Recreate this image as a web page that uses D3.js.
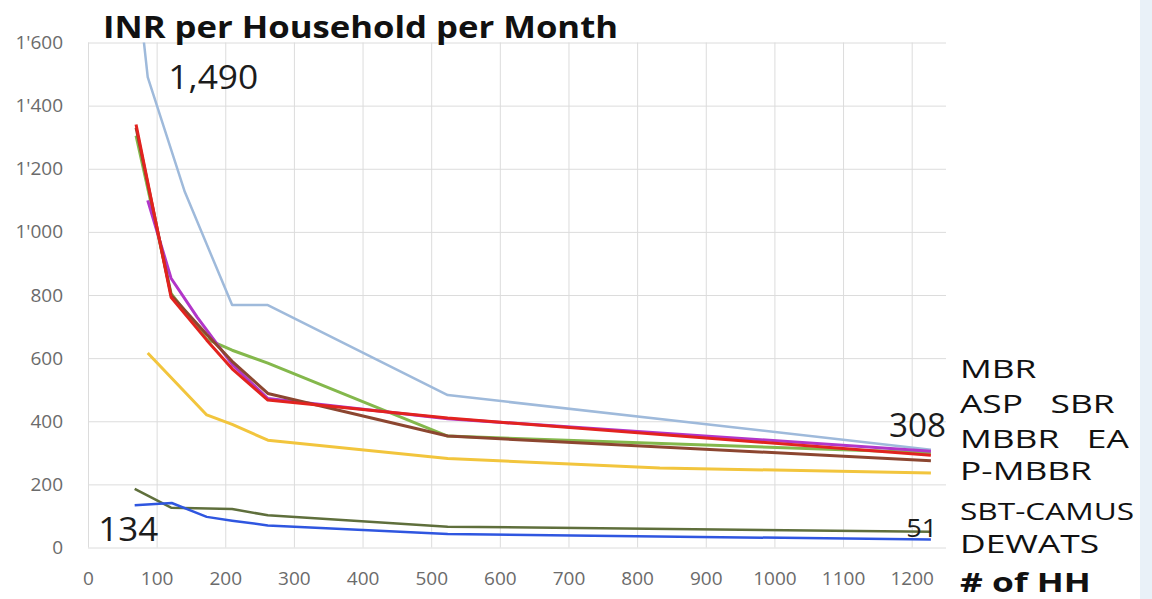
<!DOCTYPE html>
<html>
<head>
<meta charset="utf-8">
<script src="https://cdn.jsdelivr.net/npm/d3@7"></script>
<style>
	body { margin: 0; background: #fff; }
	svg { display: block; font-family: "Open Sans", sans-serif; }
</style>
</head>
<body>
<svg id="chart" width="1152" height="599"></svg>
<script>
// x = number of households, y = INR per household per month
const mbrX = [70, 87, 141, 210, 262, 524, 1228]
const mbrY = [1830, 1490, 1127, 768, 768, 483, 310]
const aspX = [70, 121, 173, 210, 262, 524, 1228]
const aspY = [1305, 805, 660, 625, 584, 353, 300]
const sbrX = [87, 121, 159, 210, 262, 524, 1228]
const sbrY = [1100, 853, 730, 580, 472, 408, 305]
const mbbrX = [70, 121, 173, 210, 262, 524, 1228]
const mbbrY = [1340, 793, 657, 566, 467, 410, 292]
const eaX = [70, 121, 173, 210, 262, 524, 1228]
const eaY = [1330, 800, 675, 590, 488, 353, 275]
const pmbbrX = [87, 173, 210, 262, 524, 833, 1228]
const pmbbrY = [616, 420, 390, 340, 282, 252, 236]
const camusX = [68, 121, 210, 262, 524, 1228]
const camusY = [186, 126, 122, 102, 66, 50]
const dewatsX = [68, 122, 173, 210, 262, 524, 1228]
const dewatsY = [134, 141, 97, 85, 70, 43, 25]

const xTicks = [0, 100, 200, 300, 400, 500, 600, 700, 800, 900, 1000, 1100, 1200]
const yTicks = [0, 200, 400, 600, 800, 1000, 1200, 1400, 1600]
const legendRows = ['MBR', 'ASP   SBR', 'MBBR   EA', 'P-MBBR', 'SBT-CAMUS', 'DEWATS']

// drawing order: back to front
const series = [
	{ name: 'MBR', xs: mbrX, ys: mbrY, color: '#9fbadb', w: 2.5 },
	{ name: 'P-MBBR', xs: pmbbrX, ys: pmbbrY, color: '#f2c53d', w: 3 },
	{ name: 'SBT-CAMUS', xs: camusX, ys: camusY, color: '#5f6f3c', w: 2.5 },
	{ name: 'DEWATS', xs: dewatsX, ys: dewatsY, color: '#2f56e0', w: 2.5 },
	{ name: 'ASP', xs: aspX, ys: aspY, color: '#84b84c', w: 3 },
	{ name: 'SBR', xs: sbrX, ys: sbrY, color: '#b236c9', w: 3 },
	{ name: 'EA', xs: eaX, ys: eaY, color: '#8c4630', w: 3 },
	{ name: 'MBBR', xs: mbbrX, ys: mbbrY, color: '#e2231f', w: 3 },
]

const svg = d3.select('#chart')
const x = d3.scaleLinear().domain([0, 1250]).range([88, 946])
const y = d3.scaleLinear().domain([0, 1600]).range([547.5, 42.5])

// slide edge strip
svg.append('rect').attr('x', 1140).attr('y', 0).attr('width', 12).attr('height', 599).attr('fill', '#e9f1f8')

// gridlines
svg.append('g')
	.attr('transform', `translate(0,${y(0)})`)
	.call(d3.axisBottom(x).tickValues(xTicks).tickSize(-(y(0) - y(1600))).tickFormat(''))
	.call(g => g.select('.domain').remove())
	.call(g => g.selectAll('line').attr('stroke', '#dcdcdc'))
svg.append('g')
	.attr('transform', `translate(${x(0)},0)`)
	.call(d3.axisLeft(y).tickValues(yTicks).tickSize(-(x(1250) - x(0))).tickFormat(''))
	.call(g => g.select('.domain').remove())
	.call(g => g.selectAll('line').attr('stroke', '#dcdcdc'))

// tick labels
const fmt = v => d3.format(',')(v).replace(',', "'")
svg.append('g')
	.attr('transform', `translate(0,${y(0)})`)
	.call(d3.axisBottom(x).tickValues(xTicks).tickSize(0).tickPadding(24).tickFormat(d3.format('d')))
	.call(g => g.select('.domain').remove())
	.call(g => g.selectAll('text').attr('font-size', 19).attr('fill', '#6b6b6b').attr('font-family', '"Open Sans", sans-serif'))
svg.append('g')
	.attr('transform', `translate(${x(0)},0)`)
	.call(d3.axisLeft(y).tickValues(yTicks).tickSize(0).tickPadding(25).tickFormat(fmt))
	.call(g => g.select('.domain').remove())
	.call(g => g.selectAll('text').attr('font-size', 19).attr('fill', '#6b6b6b').attr('font-family', '"Open Sans", sans-serif'))

// lines
svg.append('clipPath').attr('id', 'plot')
	.append('rect').attr('x', x(0)).attr('y', y(1600)).attr('width', x(1250) - x(0)).attr('height', y(0) - y(1600))
const line = d3.line().x(d => x(d[0])).y(d => y(d[1]))
svg.append('g').attr('clip-path', 'url(#plot)')
	.selectAll('path')
	.data(series)
	.join('path')
	.attr('d', s => line(s.xs.map((v, i) => [v, s.ys[i]])))
	.attr('fill', 'none')
	.attr('stroke', s => s.color)
	.attr('stroke-width', s => s.w)
	.attr('stroke-linejoin', 'round')

// title
svg.append('text')
	.attr('x', 103).attr('y', 38)
	.attr('font-size', 30).attr('font-weight', 'bold').attr('fill', '#111')
	.attr('textLength', 515).attr('lengthAdjust', 'spacingAndGlyphs')
	.text('INR per Household per Month')

// value callouts
const note = (t, px, py, size, len) => svg.append('text')
	.attr('x', px).attr('y', py).attr('font-size', size).attr('fill', '#1c1c1c')
	.attr('textLength', len).attr('lengthAdjust', 'spacingAndGlyphs').text(t)
note('1,490', x(117), y(1453), 32, 90)
note('134', x(15), y(20), 32, 60)
note('308', x(1167), y(350), 32, 57)
note('51', x(1192), y(34), 26, 31)

// series names on the right, stretched like the slide
const leg = svg.append('g').attr('transform', 'translate(960,0) scale(1.36,1)')
leg.selectAll('text')
	.data(legendRows)
	.join('text')
	.attr('x', 0)
	.attr('y', (d, i) => [378, 413, 448, 480, 521, 553][i])
	.attr('font-size', 26)
	.attr('fill', '#111')
	.style('white-space', 'pre')
	.text(d => d)
	.filter(d => d === 'SBT-CAMUS')
	.attr('font-size', 24)
	.attr('dy', -1)
	.attr('textLength', 128)
	.attr('lengthAdjust', 'spacingAndGlyphs')

leg.append('text')
	.attr('x', 0).attr('y', 592)
	.attr('font-size', 26).attr('font-weight', 'bold').attr('fill', '#111')
	.text('# of HH')
</script>
</body>
</html>
